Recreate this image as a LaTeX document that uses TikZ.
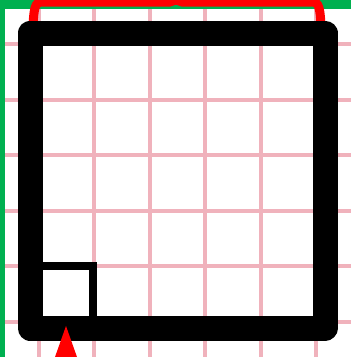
\documentclass[tikz,border=0pt]{standalone}
\definecolor{framegreen}{RGB}{0,176,80}
\definecolor{gridpink}{RGB}{240,178,188}
\tikzset{
  gridline/.style={gridpink,line width=4pt},
  wall/.style={black,line width=25pt,line join=round},
  cell/.style={black,line width=8pt,line join=miter},
  marker/.style={red,line width=9pt}
}
\begin{document}
\begin{tikzpicture}[x=1pt,y=-1pt]
              \useasboundingbox (0,0) rectangle (351,357);
              \fill[framegreen] (0,0) rectangle (351,357);
              \fill[white] (5,9) rectangle (351,357);
              \foreach \k in {0,...,5} {
                  \draw[gridline] ({38.5+55.5*\k},9) -- ({38.5+55.5*\k},357);
                  \draw[gridline] (5,{44+55.5*\k}) -- (351,{44+55.5*\k});
              }
              \draw[marker] (33,25) .. controls (34,8) and (35,2) .. (42,2) -- (170,2) -- (176,0) -- (182,2) -- (312,2) .. controls (319,2) and (320,8) .. (321,25);
              \draw[cell] (30,328) rectangle (93,266);
              \draw[wall] (30,33) rectangle (325,328);
              \fill[red] (55,357) -- (66,326) -- (77,357) -- cycle;
        \end{tikzpicture}
\end{document}
